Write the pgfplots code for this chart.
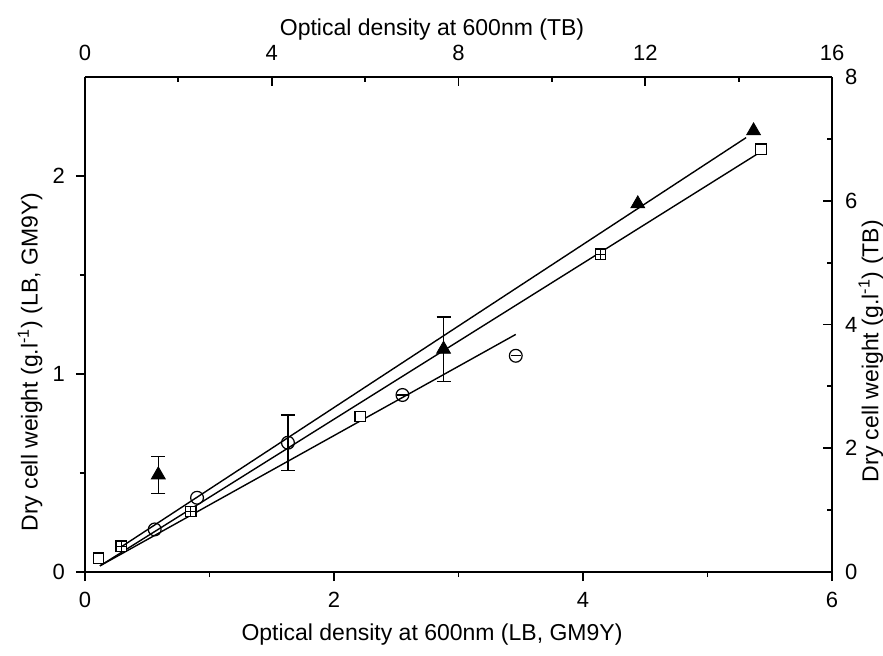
\documentclass[border=0pt]{standalone}
\usepackage{pgfplots}
\pgfplotsset{compat=1.18}
\usepackage{fontspec}
\setmainfont{Liberation Sans}
\begin{document}
\begin{tikzpicture}
\useasboundingbox (-42.5pt,-41.5pt) rectangle (399pt,286pt);
\pgfplotsset{
  common/.style={
    width=373.5pt, height=247.5pt, scale only axis,
    /pgf/number format/assume math mode=true,
    tick label style={font=\fontsize{11}{12}\selectfont},
    label style={font=\fontsize{11.5}{13}\selectfont},
    major tick length=4.5pt, minor tick length=2.5pt,
    axis line style={line width=1pt},
    every tick/.style={line width=0.9pt, black},
    minor tick style={line width=0.9pt, black},
    clip=false,
  }
}
% Bottom / left axis (LB, GM9Y)
\begin{axis}[common,
  xmin=0, xmax=6, ymin=0, ymax=2.5,
  axis x line*=bottom, axis y line*=left,
  xtick={0,2,4,6}, minor xtick={1,3,5},
  ytick={0,1,2}, minor ytick={0.5,1.5},
  tick align=outside,
  xticklabel style={yshift=-2pt},
  yticklabel style={xshift=-2pt},
  xlabel={Optical density at 600nm (LB, GM9Y)},
  ylabel={Dry cell weight (g.l\textsuperscript{-1}) (LB, GM9Y)},
  xlabel style={at={(axis description cs:0.4645,-0.127)}, anchor=center},
  ylabel style={at={(axis description cs:-0.0736,0.424)}, anchor=center},
]
% fit lines
\addplot[black, line width=0.7pt] coordinates {(0.12,0.031) (5.42,2.119)};
\addplot[black, line width=0.7pt] coordinates {(0.12,0.031) (3.46,1.200)};
% circles (GM9Y)
\addplot[only marks, mark=o, mark size=3.2pt, mark options={fill=white, line width=0.6pt},
  error bars/.cd, y dir=both, y explicit,
  error bar style={line width=0.6pt},
  error mark options={rotate=90, mark size=3.5pt, line width=0.6pt}]
  coordinates {(0.56,0.215) (0.90,0.375) (1.63,0.653) +- (0,0.14) (2.55,0.894) (3.46,1.092)};
\addplot[only marks, mark=-, mark size=2.6pt, mark options={line width=0.6pt}]
  coordinates {(2.55,0.894) (3.46,1.092)};
% squares (LB)
\addplot[only marks, mark=square*, mark size=2.6pt, mark options={fill=white, draw=black, line width=0.6pt}]
  coordinates {(0.11,0.07) (0.29,0.13) (0.85,0.305) (2.21,0.785) (4.14,1.605) (5.43,2.135)};
\addplot[only marks, mark=+, mark size=2.6pt, mark options={line width=0.5pt}]
  coordinates {(0.29,0.13) (0.85,0.305) (4.14,1.605)};
\end{axis}
% Top / right axis (TB)
\begin{axis}[common,
  xmin=0, xmax=16, ymin=0, ymax=8,
  axis x line*=top, axis y line*=right,
  xtick={0,4,8,12,16}, minor xtick={2,6,10,14},
  ytick={0,2,4,6,8}, minor ytick={1,3,5,7},
  tick align=inside,
  xticklabel style={yshift=4.5pt},
  yticklabel style={xshift=3pt},
  xlabel={Optical density at 600nm (TB)},
  ylabel={Dry cell weight (g.l\textsuperscript{-1}) (TB)},
  xlabel style={at={(axis description cs:0.4645,1.095)}, anchor=center},
  ylabel style={at={(axis description cs:1.052,0.446)}, anchor=center, rotate=0},
]
\addplot[black, line width=0.7pt] coordinates {(0.77,0.403) (14.16,7.02)};
\addplot[only marks, mark=triangle*, mark size=4pt, mark options={fill=black, draw=black},
  error bars/.cd, y dir=both, y explicit,
  error bar style={line width=0.6pt},
  error mark options={rotate=90, mark size=3.5pt, line width=0.6pt}]
  coordinates {(1.57,1.57) +- (0,0.30) (7.68,3.60) +- (0,0.52) (11.84,5.95) (14.32,7.13)};
\end{axis}
\end{tikzpicture}
\end{document}
